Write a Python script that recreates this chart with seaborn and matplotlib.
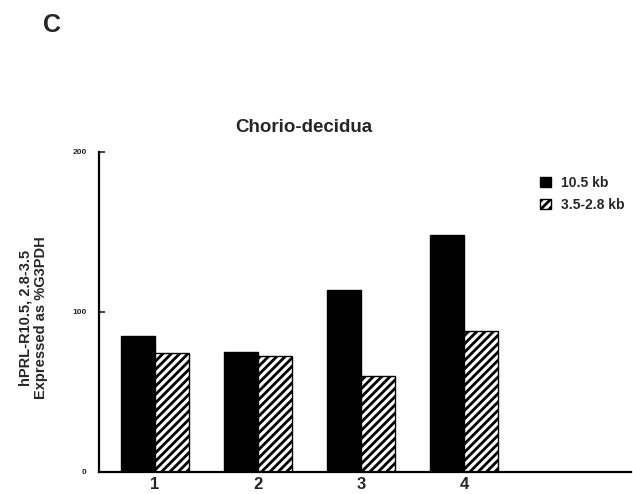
import matplotlib
matplotlib.use('Agg')
import matplotlib.pyplot as plt
import seaborn as sns
import pandas as pd
from matplotlib.patches import Patch

# ---- data ----
lanes = ['1', '2', '3', '4']
kb_10_5 = [85, 75, 113.5, 148]
kb_3_5_2_8 = [74, 72, 60, 88]
series_labels = ['10.5 kb', '3.5-2.8 kb']
yticks = [0, 100, 200]
ytick_labels = ['0', '100', '200']

sns.set_theme(style='white')
plt.rcParams['font.family'] = ['Liberation Sans', 'DejaVu Sans']
plt.rcParams['hatch.linewidth'] = 2.0
plt.rcParams['hatch.color'] = 'black'

df = pd.DataFrame({
    'lane': lanes * 2,
    'value': kb_10_5 + kb_3_5_2_8,
    'series': [series_labels[0]] * len(lanes) + [series_labels[1]] * len(lanes),
})

fig = plt.figure(figsize=(6.33, 4.94), dpi=100)
ax = fig.add_axes([99 / 633, 22.5 / 494, 532 / 633, 319.8 / 494])

sns.barplot(data=df, x='lane', y='value', hue='series', hue_order=series_labels,
            order=lanes, palette=['black', 'white'], width=0.66, edgecolor='black',
            linewidth=1.0, saturation=1, legend=False, ax=ax)
for bar in ax.containers[1]:
    bar.set_hatch('////')

ax.set_xlim(-0.544, 4.62)
ax.set_ylim(0, 200)
ax.set_yticks(yticks)
ax.set_yticklabels(ytick_labels)
ax.set_xlabel('')
ax.set_ylabel('')

for s in ['top', 'right']:
    ax.spines[s].set_visible(False)
for s in ['left', 'bottom']:
    ax.spines[s].set_color('black')
    ax.spines[s].set_linewidth(1.6)

ax.tick_params(axis='y', direction='in', length=4, width=1.2, pad=9, labelsize=6, left=True)
ax.tick_params(axis='x', length=0, pad=4, labelsize=12)
for t in ax.get_yticklabels() + ax.get_xticklabels():
    t.set_fontweight('heavy')

fig.text(33 / 633, 1 - 318 / 494, 'hPRL-R10.5, 2.8-3.5\nExpressed as %G3PDH',
         rotation=90, ha='center', va='center', fontsize=10.5, fontweight='bold',
         linespacing=1.1)
fig.text(304 / 633, 1 - 127 / 494, 'Chorio-decidua', ha='center', va='center',
         fontsize=13.5, fontweight='bold')
fig.text(52 / 633, 1 - 25 / 494, 'C', ha='center', va='center',
         fontsize=18, fontweight='bold')

handles = [Patch(facecolor='black', edgecolor='black'),
           Patch(facecolor='white', edgecolor='black', hatch='////')]
fig.legend(handles, series_labels, loc='upper left',
           bbox_to_anchor=(540 / 633, 1 - 176 / 494), frameon=False,
           prop=dict(weight='bold', size=10), handlelength=0.8, handleheight=0.75,
           handletextpad=0.7, labelspacing=0.55, borderpad=0, borderaxespad=0)

fig.savefig('out.png', dpi=100)
